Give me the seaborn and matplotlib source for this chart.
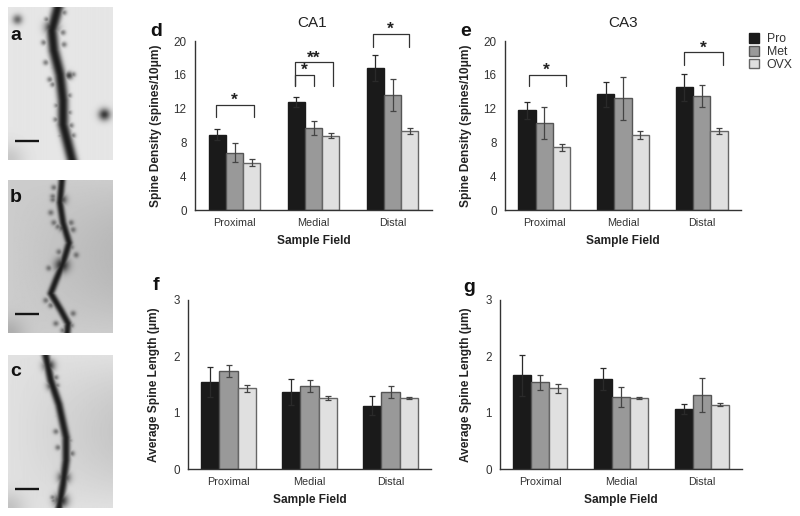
import numpy as np
import pandas as pd
import matplotlib.pyplot as plt
import seaborn as sns

FIG_W, FIG_H = 800, 516

fields = ['Proximal', 'Medial', 'Distal']
groups = ['Pro', 'Met', 'OVX']
colors = ['#1a1a1a', '#999999', '#e0e0e0']
edges = ['#1a1a1a', '#555555', '#666666']
err_colors = ['#2a2a2a', '#444444', '#444444']

# spine density, CA1
d_pro = [8.9, 12.8, 16.8]
d_met = [6.8, 9.7, 13.6]
d_ovx = [5.6, 8.8, 9.3]
d_pro_err = [0.65, 0.6, 1.5]
d_met_err = [1.15, 0.8, 1.85]
d_ovx_err = [0.4, 0.3, 0.35]

# spine density, CA3
e_pro = [11.8, 13.7, 14.5]
e_met = [10.3, 13.2, 13.5]
e_ovx = [7.4, 8.9, 9.3]
e_pro_err = [1.0, 1.5, 1.6]
e_met_err = [1.9, 2.5, 1.3]
e_ovx_err = [0.4, 0.5, 0.35]

# spine length, CA1
f_pro = [1.54, 1.37, 1.12]
f_met = [1.74, 1.47, 1.37]
f_ovx = [1.43, 1.26, 1.26]
f_pro_err = [0.27, 0.23, 0.17]
f_met_err = [0.11, 0.11, 0.11]
f_ovx_err = [0.07, 0.03, 0.01]

# spine length, CA3
g_pro = [1.66, 1.60, 1.07]
g_met = [1.54, 1.28, 1.32]
g_ovx = [1.43, 1.26, 1.14]
g_pro_err = [0.36, 0.20, 0.09]
g_met_err = [0.13, 0.18, 0.30]
g_ovx_err = [0.08, 0.01, 0.03]

# significance brackets: x0, x1, top, foot, label
d_brackets = [(-0.23, 0.25, 12.45, 11.0, '*'),
              (0.77, 1.01, 16.0, 14.66, '*'),
              (0.77, 1.25, 17.47, 14.66, '**'),
              (1.75, 2.21, 20.8, 19.3, '*')]
e_brackets = [(-0.19, 0.27, 16.0, 14.7, '*'),
              (1.78, 2.27, 18.66, 17.2, '*')]

# micrographs, traced by eye in panel pixels
dendrite_a = [(49, 0), (43, 23), (45, 43), (51, 67), (54, 93), (54, 117), (59, 137), (63, 153)]
dendrite_b = [(53, 0), (51, 23), (54, 43), (60, 63), (54, 83), (47, 100), (42, 113), (52, 130), (59, 143), (58, 153)]
dendrite_c = [(37, 0), (42, 25), (50, 49), (57, 82), (57, 105), (54, 129), (50, 153)]
spines_a = [(35, 35), (37, 55), (64, 67), (44, 77), (47, 112), (64, 128), (55, 5), (55, 37), (52, 128),
            (60, 105), (38, 12), (58, 68), (45, 60), (60, 88), (48, 98), (62, 118), (54, 25), (41, 72)]
spines_b = [(44, 20), (42, 33), (64, 50), (67, 75), (40, 88), (37, 120), (47, 143), (64, 133), (45, 43),
            (49, 47), (44, 17), (62, 67), (54, 150), (45, 8), (62, 43), (42, 125), (62, 145), (50, 72)]
spines_c = [(47, 76), (49, 92), (45, 145), (47, 22), (60, 85), (48, 30), (63, 98), (44, 142), (50, 60)]
spots_a = [(9, 12, 5, 0.6), (95, 107, 6, 0.85), (43, 20, 7, 0.95), (60, 68, 4, 0.8)]
spots_b = [(53, 85, 7, 0.95), (53, 20, 5, 0.75), (54, 48, 4, 0.8)]
spots_c = [(52, 145, 7, 0.95), (55, 122, 6, 0.9), (40, 10, 6, 0.9), (43, 30, 5, 0.85)]


def axes_px(fig, left, top, right, bottom):
    return fig.add_axes([left / FIG_W, 1 - bottom / FIG_H,
                         (right - left) / FIG_W, (bottom - top) / FIG_H])


def draw_photo(ax, path, spines, spots, base, shade, width):
    h, w = 153, 104
    yy, xx = np.mgrid[0:h, 0:w]
    pts = np.array(path, dtype=float)
    # distance from every pixel to the dendrite polyline
    dist = np.full((h, w), 1e9)
    for p0, p1 in zip(pts[:-1], pts[1:]):
        seg = p1 - p0
        t = ((xx - p0[0]) * seg[0] + (yy - p0[1]) * seg[1]) / (seg @ seg)
        t = np.clip(t, 0, 1)
        dist = np.minimum(dist, np.hypot(xx - p0[0] - t * seg[0], yy - p0[1] - t * seg[1]))
    dark = np.exp(-(dist / width) ** 2.5)
    for x, y in spines:
        dark = np.maximum(dark, 0.5 * np.exp(-((xx - x) ** 2 + (yy - y) ** 2) / 8.0))
    for x, y, r, level in spots:
        dark = np.maximum(dark, level * np.exp(-((xx - x) ** 2 + (yy - y) ** 2) / r ** 2))
    # soft grey background, a bit darker toward one side
    bg = base - shade * (xx / w) * np.sin(yy / h * np.pi)
    bg = bg - 0.12 * np.exp(-((xx - 0) ** 2 + (yy - h) ** 2) / 250.0)
    img = bg * (1 - dark) + 0.12 * dark
    ax.imshow(img, cmap='gray', vmin=0, vmax=1, aspect='auto', extent=[0, w, h, 0])
    ax.plot([7, 31], [134, 134], color='#151515', lw=1.7, solid_capstyle='butt')
    ax.set_xlim(0, w)
    ax.set_ylim(h, 0)
    ax.axis('off')


def plot_bars(ax, pro, met, ovx, pro_err, met_err, ovx_err, ymax, yticks, ylabel, label_x, bar_width):
    data = pd.DataFrame({
        'field': fields * 3,
        'group': np.repeat(groups, 3),
        'value': pro + met + ovx,
    })
    sns.barplot(data=data, x='field', y='value', hue='group', order=fields, hue_order=groups,
                palette=colors, width=bar_width, gap=0, errorbar=None, linewidth=1.0,
                legend=True, ax=ax)
    for bars, err, ecol, edge in zip(ax.containers, [pro_err, met_err, ovx_err], err_colors, edges):
        for b in bars:
            b.set_edgecolor(edge)
        xs = [b.get_x() + b.get_width() / 2 for b in bars]
        ys = [b.get_height() for b in bars]
        ax.errorbar(xs, ys, yerr=err, fmt='none', ecolor=ecol, elinewidth=0.9,
                    capsize=2.2, capthick=0.9, zorder=5)
    ax.set_xlim(-0.5, 2.5)
    ax.set_ylim(0, ymax)
    ax.set_yticks(yticks)
    ax.set_xticks([0.5, 1.5, 2.5], minor=True)
    ax.tick_params(axis='x', which='major', length=0, pad=6, labelsize=7.8, labelcolor='#333333')
    ax.tick_params(axis='x', which='minor', length=2.5, width=0.9, color='#333333')
    ax.tick_params(axis='y', length=3, width=0.9, color='#333333', labelsize=8.4,
                   labelcolor='#333333', pad=3)
    for side in ['top', 'right']:
        ax.spines[side].set_visible(False)
    for side in ['left', 'bottom']:
        ax.spines[side].set_color('#333333')
        ax.spines[side].set_linewidth(1.0)
    ax.set_xlabel('Sample Field', fontweight='bold', fontsize=8.6, color='#222222', labelpad=5)
    ax.set_ylabel(ylabel, fontweight='bold', fontsize=8.6, color='#222222')
    ax.yaxis.set_label_coords(label_x, 0.5)


def add_brackets(ax, brackets):
    for x0, x1, top, foot, label in brackets:
        ax.plot([x0, x0, x1, x1], [foot, top, top, foot], color='#333333', lw=0.9, clip_on=False)
        ax.text((x0 + x1) / 2 - 0.01, top - 0.35, label, ha='center', va='bottom', fontsize=12.5,
                fontweight='bold', color='#222222', clip_on=False)


def main():
    sns.set_style('white')
    plt.rcParams['font.family'] = ['Liberation Sans', 'DejaVu Sans']
    fig = plt.figure(figsize=(FIG_W / 100, FIG_H / 100), dpi=100)

    ax_a = axes_px(fig, 8, 7, 112, 160)
    ax_b = axes_px(fig, 8, 180, 112, 333)
    ax_c = axes_px(fig, 8, 355, 112, 508)
    draw_photo(ax_a, dendrite_a, spines_a, spots_a, 0.90, 0.0, 5.5)
    draw_photo(ax_b, dendrite_b, spines_b, spots_b, 0.80, 0.08, 3.5)
    draw_photo(ax_c, dendrite_c, spines_c, spots_c, 0.88, 0.10, 4.0)

    ax_d = axes_px(fig, 195, 41, 432, 210)
    ax_e = axes_px(fig, 505, 41, 741, 210)
    ax_f = axes_px(fig, 188, 300, 431, 469)
    ax_g = axes_px(fig, 500, 300, 742, 469)

    density = 'Spine Density (spines/10μm)'
    length = 'Average Spine Length (μm)'
    plot_bars(ax_d, d_pro, d_met, d_ovx, d_pro_err, d_met_err, d_ovx_err,
              20, [0, 4, 8, 12, 16, 20], density, -0.14, 0.65)
    plot_bars(ax_e, e_pro, e_met, e_ovx, e_pro_err, e_met_err, e_ovx_err,
              20, [0, 4, 8, 12, 16, 20], density, -0.14, 0.66)
    plot_bars(ax_f, f_pro, f_met, f_ovx, f_pro_err, f_met_err, f_ovx_err,
              3, [0, 1, 2, 3], length, -0.115, 0.67)
    plot_bars(ax_g, g_pro, g_met, g_ovx, g_pro_err, g_met_err, g_ovx_err,
              3, [0, 1, 2, 3], length, -0.115, 0.67)

    add_brackets(ax_d, d_brackets)
    add_brackets(ax_e, e_brackets)

    for ax in [ax_d, ax_f, ax_g]:
        ax.get_legend().remove()
    handles = ax_e.get_legend().legend_handles
    ax_e.get_legend().remove()
    for handle, edge in zip(handles, edges):
        handle.set_edgecolor(edge)
        handle.set_linewidth(1.0)
    fig.legend(handles, groups, loc='upper left', bbox_to_anchor=(749 / FIG_W, 1 - 33 / FIG_H),
               frameon=False, fontsize=8.8, handlelength=0.85, handleheight=0.85,
               handletextpad=0.6, labelspacing=0.06, borderpad=0, borderaxespad=0,
               labelcolor='#333333')

    fig.text(312 / FIG_W, 1 - 23 / FIG_H, 'CA1', ha='center', va='center', fontsize=11, color='#222222')
    fig.text(623 / FIG_W, 1 - 23 / FIG_H, 'CA3', ha='center', va='center', fontsize=11, color='#222222')

    letters = {'a': (10, 35), 'b': (10, 198), 'c': (10, 372), 'd': (150, 31),
               'e': (460, 32), 'f': (153, 286), 'g': (463, 288)}
    for name, (x, y) in letters.items():
        fig.text(x / FIG_W, 1 - y / FIG_H, name, ha='left', va='center', fontsize=14,
                 fontweight='bold', color='#111111')

    fig.savefig('out.png', dpi=100)
    plt.close(fig)


if __name__ == "__main__":
    main()
